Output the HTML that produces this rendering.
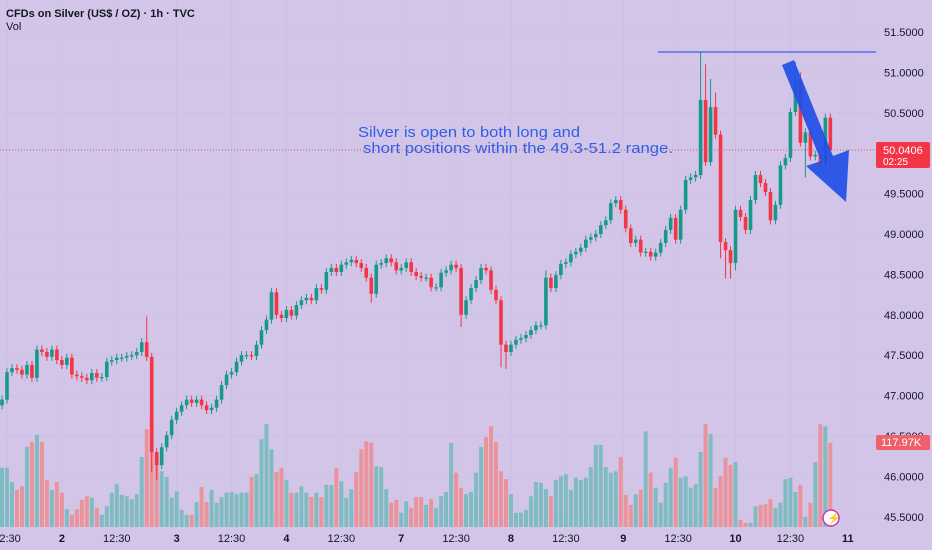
<!DOCTYPE html>
<html><head><meta charset="utf-8">
<style>
html,body{margin:0;padding:0;background:#d3c5e8;}
svg{display:block;font-family:"Liberation Sans",sans-serif;}
</style></head>
<body>
<svg id="chart" width="932" height="550" viewBox="0 0 932 550">
  <rect x="0" y="0" width="932" height="550" fill="#d3c5e8"/>
  <g id="grid"></g>
  <g id="vol"></g>
  <g id="candles"></g>
  <line x1="0" y1="150" x2="876" y2="150" stroke="#e0535f" stroke-width="1" stroke-dasharray="1,2"/>
  <line x1="658" y1="52" x2="876" y2="52" stroke="#3560e8" stroke-width="1.3"/>
  <polygon points="782,65 794,60 833,156 849,150 846,202 806,166 821,161" fill="#1f4fe6" fill-opacity="0.92"/>
  <text x="358" y="137" font-size="15" fill="#2f5fe8" textLength="222" lengthAdjust="spacingAndGlyphs">Silver is open to both long and</text>
  <text x="363" y="153" font-size="15" fill="#2f5fe8" textLength="310" lengthAdjust="spacingAndGlyphs">short positions within the 49.3-51.2 range.</text>
  <text x="6" y="17" font-size="11" font-weight="bold" fill="#131722">CFDs on Silver (US$ / OZ) · 1h · TVC</text>
  <text x="6" y="30" font-size="11" fill="#131722">Vol</text>
  <g id="yaxis"></g>
  <g id="xaxis"></g>
  <rect x="876" y="142" width="54" height="26" rx="2" fill="#f23645"/>
  <text x="883" y="154" font-size="11" fill="#fff">50.0406</text>
  <text x="883" y="165" font-size="10" fill="#fff">02:25</text>
  <rect x="876" y="435" width="54" height="15" rx="2" fill="#f0606a"/>
  <text x="881" y="446" font-size="11" fill="#fff">117.97K</text>
  <circle cx="831" cy="518" r="8" fill="#fff" stroke="#c03ab0" stroke-width="1.5"/>
  <text x="827" y="522" font-size="11" fill="#c03ab0">⚡</text>
</svg>
<script>
const closes=[46.95,47.29,47.34,47.32,47.26,47.38,47.22,47.57,47.54,47.48,47.57,47.44,47.38,47.47,47.26,47.24,47.22,47.19,47.28,47.22,47.23,47.42,47.44,47.47,47.47,47.49,47.50,47.54,47.66,47.48,
46.30,46.14,46.36,46.51,46.70,46.80,46.88,46.95,46.91,46.95,46.88,46.82,46.85,46.95,47.13,47.26,47.29,47.42,47.50,47.50,47.49,47.63,47.81,47.94,48.28,48.00,47.96,48.06,47.99,48.12,
48.18,48.21,48.18,48.33,48.31,48.53,48.58,48.53,48.62,48.65,48.68,48.64,48.58,48.46,48.26,48.62,48.64,48.70,48.65,48.55,48.58,48.65,48.53,48.48,48.46,48.46,48.34,48.34,48.52,48.55,
48.62,48.58,48.00,48.18,48.33,48.43,48.58,48.55,48.31,48.18,47.63,47.54,47.63,47.69,47.71,47.75,47.81,47.87,47.87,48.46,48.33,48.49,48.63,48.65,48.75,48.78,48.83,48.93,48.96,49.00,
49.11,49.17,49.38,49.42,49.30,49.07,48.89,48.93,48.77,48.78,48.72,48.77,48.89,49.05,49.20,48.93,49.30,49.67,49.70,49.73,50.66,49.89,50.57,50.23,48.90,48.80,48.64,49.30,49.21,49.05,
49.42,49.73,49.63,49.52,49.17,49.36,49.85,49.94,50.51,50.91,50.13,50.26,49.96,49.98,49.88,50.44,50.04];
const firstOpen=46.88;
const highIdx=[29,30,140,141,142,143,159,160,109];
const highVals=[47.98,47.50,51.25,51.10,50.92,50.75,51.13,51.00,48.55];
const lowIdx=[31,30,74,92,100,101,144,145,146,147,161,166];
const lowVals=[45.95,46.05,48.15,47.85,47.35,47.33,48.70,48.45,48.45,48.55,49.70,49.80];
const volumes=[62,83,83,63,52,57,112,119,129,119,66,52,63,48,25,17,25,38,43,41,27,17,29,48,60,45,43,39,46,98,
137,153,104,78,70,41,50,24,17,17,35,56,35,52,34,42,48,49,46,48,48,70,74,123,144,109,77,83,66,48,
48,57,48,42,48,42,59,59,83,64,41,53,77,109,120,118,85,84,53,34,38,20,36,27,42,42,31,39,27,43,
49,118,76,55,46,49,76,112,126,141,119,78,67,46,20,20,24,43,63,62,53,43,66,71,74,52,69,66,69,84,
115,115,84,76,78,98,45,31,46,52,134,76,55,34,62,83,97,69,71,55,60,105,144,130,55,71,97,87,91,10,
6,6,29,31,32,39,27,34,67,69,49,59,14,34,91,144,141,118];
const priceTicks=[51.5,51.0,50.5,50.0,49.5,49.0,48.5,48.0,47.5,47.0,46.5,46.0,45.5];
const timeLabels=["12:30","2","12:30","3","12:30","4","12:30","7","12:30","8","12:30","9","12:30","10","12:30","11"];
const timeIdx=[1,12,23,35,46,57,68,80,91,102,113,124.5,135.5,147,158,169.5];

const NS="http://www.w3.org/2000/svg";
const X0=2,STEP=4.99;
function xOf(i){return X0+i*STEP;}
function yOf(p){return 32+(51.5-p)*80.8;}
const VBASE=527,VSCALE=0.714;
function vH(v){return v*VSCALE;}
function mk(tag,attrs,parent){const e=document.createElementNS(NS,tag);for(const k in attrs)e.setAttribute(k,attrs[k]);parent.appendChild(e);return e;}

const grid=document.getElementById('grid');
priceTicks.forEach((p,k)=>{
  if(p===50.0)return;
  const l=mk('line',{x1:0,x2:876,y1:yOf(p),y2:yOf(p),stroke:'#cec0e4','stroke-width':1},grid);
  
  
});
timeIdx.forEach((ti)=>{
  const l=mk('line',{x1:xOf(ti),x2:xOf(ti),y1:0,y2:527,stroke:'#cec0e4','stroke-width':1},grid);
  
  
});

const yaxis=document.getElementById('yaxis');
priceTicks.forEach(p=>{
  if(p===50.0)return;
  const t=mk('text',{x:884,y:yOf(p)+4,'font-size':11,fill:'#131722'},yaxis);
  t.textContent=p.toFixed(4);
  
  
});
const xaxis=document.getElementById('xaxis');
timeLabels.forEach((s,k)=>{
  const t=mk('text',{x:xOf(timeIdx[k]),y:542,'font-size':11,fill:'#131722','text-anchor':'middle','font-weight':s.indexOf(':')<0?'bold':'normal'},xaxis);
  t.textContent=s;
  
  
});

const n=closes.length;
const opens=closes.map((c,i)=>i===0?firstOpen:closes[i-1]);
const cg=document.getElementById('candles');
const vg=document.getElementById('vol');
const off=volumes.length-n;
for(let i=0;i<n;i++){
  const o=opens[i],c=closes[i],up=c>=o;
  const col=up?'#16998a':'#f23645';
  const x=xOf(i);
  const hk=highIdx.indexOf(i),lk=lowIdx.indexOf(i);
  const hi=hk>=0?highVals[hk]:Math.max(o,c);
  const lo=lk>=0?lowVals[lk]:Math.min(o,c);
  const yT=Math.min(yOf(hi),Math.min(yOf(o),yOf(c))-4);
  const yB=Math.max(yOf(lo),Math.max(yOf(o),yOf(c))+4);
  const vi=i+off;
  if(vi>=0&&vi<volumes.length){
    const h=vH(volumes[vi]);
    const vb=mk('rect',{x:x-2,y:VBASE-h,width:4,height:h,fill:up?'#7fbcc2':'#eb939b'},vg);
    
    
  }
  const w=mk('line',{x1:x,x2:x,y1:yT,y2:yB,stroke:col,'stroke-width':1},cg);
  
  
  const bt=Math.min(yOf(o),yOf(c)),bh=Math.max(1.2,Math.abs(yOf(o)-yOf(c)));
  const b=mk('rect',{x:x-1.8,y:bt,width:3.6,height:bh,fill:col},cg);
  
  
}
</script>
</body></html>
